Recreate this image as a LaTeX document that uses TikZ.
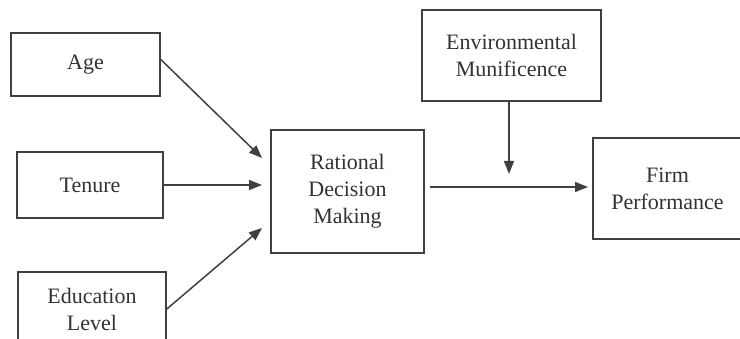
\documentclass[tikz,border=0pt]{standalone}
\usepackage{fontspec}
\setmainfont{Liberation Serif}
\usetikzlibrary{arrows.meta,calc}
\begin{document}
\begin{tikzpicture}[x=1pt,y=-1pt,
  box/.style={draw=black!75, line width=1.6pt, fill=white, align=center, inner sep=0pt,
    font=\fontsize{22}{27}\selectfont, text=black!80},
  conn/.style={draw=black!75, line width=1.5pt, -{Triangle[length=13pt,width=10pt]}}]
\useasboundingbox (0,0) rectangle (740,339);
\node[box, minimum width=149pt, minimum height=63pt] (age) at (85.5,64.5) {Age};
\node[box, minimum width=146pt, minimum height=66pt] (tenure) at (90,185) {Tenure};
\node[box, minimum width=148pt, minimum height=74pt] (edu) at (92,309) {Education\\Level};
\node[box, minimum width=153pt, minimum height=123pt] (rdm) at (347.5,191.5) {Rational\\Decision\\Making};
\node[box, minimum width=179pt, minimum height=91pt] (env) at (511.5,55.5) {Environmental\\Munificence};
\node[box, minimum width=149pt, minimum height=101pt] (firm) at (667.5,188.5) {Firm\\Performance};
\coordinate (ageout) at ([yshift=5pt]age.east);
\coordinate (agein) at (262,158);
\coordinate (eduin) at (262,228);
\coordinate (tenin) at (262,185);
\coordinate (rout) at (430,187);
\coordinate (fin) at (588,187);
\coordinate (envin) at (509,174);
\draw[conn] (ageout) -- (agein);
\draw[conn] (tenure.east) -- (tenin);
\draw[conn] (edu.east) -- (eduin);
\draw[conn] (rout) -- (fin);
\draw[conn] (env.south -| envin) -- (envin);
\end{tikzpicture}
\end{document}
